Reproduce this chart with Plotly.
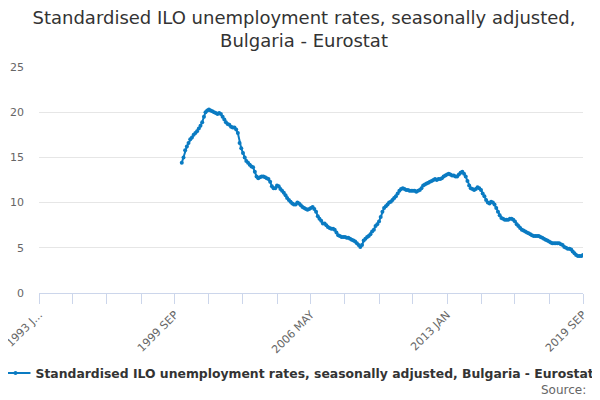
import plotly.graph_objects as go
import pandas as pd

series_name = "Standardised ILO unemployment rates, seasonally adjusted, Bulgaria - Eurostat"
start_month = "2000-01-01"

values_2000 = [14.4, 15.0, 15.8, 16.2, 16.6, 17.0, 17.2, 17.5, 17.7, 17.9, 18.2, 18.5]
values_2001 = [18.9, 19.5, 20.0, 20.2, 20.3, 20.2, 20.1, 20.0, 19.9, 19.8, 19.9, 19.8]
values_2002 = [19.5, 19.2, 18.9, 18.7, 18.6, 18.4, 18.3, 18.3, 18.1, 17.7, 16.6, 16.0]
values_2003 = [15.5, 15.0, 14.6, 14.4, 14.2, 14.0, 13.9, 13.4, 12.9, 12.7, 12.8, 12.9]
values_2004 = [12.9, 12.8, 12.7, 12.6, 12.3, 11.8, 11.6, 11.6, 11.9, 11.8, 11.5, 11.3]
values_2005 = [11.1, 10.8, 10.5, 10.3, 10.1, 9.9, 9.8, 9.8, 10.0, 9.9, 9.7, 9.5]
values_2006 = [9.4, 9.3, 9.2, 9.3, 9.4, 9.5, 9.3, 9.0, 8.5, 8.2, 8.0, 7.7]
values_2007 = [7.7, 7.5, 7.3, 7.2, 7.1, 7.1, 7.0, 6.7, 6.4, 6.3, 6.2, 6.2]
values_2008 = [6.2, 6.1, 6.1, 6.0, 5.9, 5.8, 5.7, 5.5, 5.3, 5.1, 5.3, 5.8]
values_2009 = [6.0, 6.2, 6.3, 6.5, 6.8, 7.0, 7.4, 7.6, 7.9, 8.4, 9.0, 9.4]
values_2010 = [9.6, 9.8, 10.0, 10.1, 10.3, 10.5, 10.7, 11.0, 11.3, 11.5, 11.6, 11.5]
values_2011 = [11.4, 11.4, 11.3, 11.3, 11.3, 11.3, 11.2, 11.3, 11.4, 11.6, 11.9, 12.0]
values_2012 = [12.1, 12.2, 12.3, 12.4, 12.5, 12.6, 12.5, 12.6, 12.6, 12.7, 12.9, 13.0]
values_2013 = [13.1, 13.2, 13.1, 13.0, 13.0, 12.9, 12.9, 13.1, 13.3, 13.4, 13.2, 12.9]
values_2014 = [12.4, 11.9, 11.6, 11.5, 11.4, 11.5, 11.7, 11.6, 11.4, 11.0, 10.7, 10.3]
values_2015 = [10.0, 9.9, 10.1, 10.0, 9.8, 9.4, 9.0, 8.6, 8.3, 8.2, 8.1, 8.1]
values_2016 = [8.1, 8.2, 8.2, 8.1, 7.9, 7.6, 7.4, 7.2, 7.0, 6.9, 6.8, 6.7]
values_2017 = [6.6, 6.5, 6.4, 6.3, 6.3, 6.3, 6.3, 6.2, 6.1, 6.0, 5.9, 5.8]
values_2018 = [5.7, 5.6, 5.5, 5.5, 5.5, 5.5, 5.5, 5.4, 5.3, 5.1, 5.0, 4.9]
values_2019 = [4.9, 4.8, 4.6, 4.4, 4.2, 4.1, 4.1, 4.1, 4.2]

tick_dates = ["1993-01-01", "1994-09-01", "1996-05-01", "1998-01-01", "1999-09-01",
              "2001-05-01", "2003-01-01", "2004-09-01", "2006-05-01", "2008-01-01",
              "2009-09-01", "2011-05-01", "2013-01-01", "2014-09-01", "2016-05-01",
              "2018-01-01", "2019-09-01"]
tick_labels = ["1993 J...", "", "", "", "1999 SEP", "", "", "", "2006 MAY", "", "", "",
               "2013 JAN", "", "", "", "2019 SEP"]
y_ticks = [0, 5, 10, 15, 20, 25]

values = (values_2000 + values_2001 + values_2002 + values_2003 + values_2004 +
          values_2005 + values_2006 + values_2007 + values_2008 + values_2009 +
          values_2010 + values_2011 + values_2012 + values_2013 + values_2014 +
          values_2015 + values_2016 + values_2017 + values_2018 + values_2019)
dates = pd.date_range(start_month, periods=len(values), freq="MS")

color = "#0a7bc2"
font = "DejaVu Sans"

fig = go.Figure()
fig.add_trace(go.Scatter(
    x=dates, y=values, mode="lines+markers", name=series_name,
    line=dict(color=color, width=2),
    marker=dict(color=color, size=4),
))

fig.update_layout(
    width=592, height=392,
    margin=dict(l=31, r=17, t=59, b=107, autoexpand=False),
    paper_bgcolor="white", plot_bgcolor="white",
    font=dict(family=font, color="#666666", size=11),
    title=dict(
        text="Standardised ILO unemployment rates, seasonally adjusted,<br>Bulgaria - Eurostat",
        x=0.5, xref="container", xanchor="center",
        y=0.959, yref="container", yanchor="top",
        font=dict(family=font, size=18, color="#333333"),
    ),
    showlegend=True,
    legend=dict(
        orientation="h", x=-0.08, xref="paper", xanchor="left",
        y=0.068, yref="container", yanchor="middle",
        font=dict(family=font, size=12.4, color="#333333", weight="bold"),
        itemwidth=30,
    ),
    xaxis=dict(
        type="date", automargin=False,
        range=["1993-01-01", "2019-09-01"],
        tickmode="array", tickvals=tick_dates, ticktext=tick_labels,
        tickangle=-45, ticklabeloverflow="allow",
        showline=True, linecolor="#ccd6eb", linewidth=1,
        ticks="outside", ticklen=10, tickcolor="#ccd6eb",
        showgrid=False, zeroline=False,
        tickfont=dict(family=font, size=11, color="#666666"),
    ),
    yaxis=dict(
        range=[0, 25], tickmode="array", tickvals=y_ticks, automargin=False,
        gridcolor="#e6e6e6", zeroline=False, showline=False,
        tickfont=dict(family=font, size=11, color="#666666"),
        ticklabelstandoff=14,
    ),
    annotations=[dict(
        text="Source:", xref="paper", yref="paper", x=1, xanchor="right",
        xshift=5, y=-0.429, yanchor="middle", showarrow=False,
        font=dict(family=font, size=12, color="#666666"),
    )],
)

fig.write_html("out.html")
